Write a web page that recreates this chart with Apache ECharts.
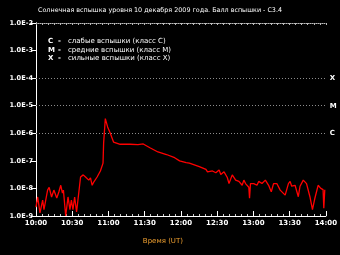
<!DOCTYPE html>
<html>
<head>
<meta charset="utf-8">
<script src="https://cdn.jsdelivr.net/npm/echarts@6/dist/echarts.min.js"></script>
<style>html,body{margin:0;padding:0;background:#000;}#c{width:340px;height:255px;}</style>
</head>
<body>
<div id="c"></div>
<script>
// minutes after 10:00 UT
const minutes = [0,1.4,3.3,5.5,6.6,9.6,10.9,12.9,14.8,17.2,18.9,20.5,21.9,22.7,24.6,26.5,28.1,29.3,30.6,32,33.6,36.9,39.1,41,43.7,45.1,46.5,47.8,50.6,53.3,55.5,56,57.4,59.3,61.5,64.2,69.7,77.9,84.4,88.8,94.3,101,108,114.8,118.9,124.3,127,135.2,140.7,142,146.1,148.9,151.6,153,155.7,158.4,159.8,162.5,165.3,168,170.7,172.1,173.5,176.2,176.8,177.6,180.3,183,184.4,187.1,189.9,192.6,194.8,196.7,199.4,202.2,203.5,206.3,209,210.4,211.7,214.5,217.2,218.6,221.3,224,226.8,228.9,230.9,233.6,235.8,237.7,238.3,239.1];
// X-ray flux, W/m^2
const flux = [2.1e-9,4.9e-9,1.3e-9,3.8e-9,1.7e-9,8.7e-9,1.1e-8,4.9e-9,8.7e-9,4.5e-9,7.4e-9,1.3e-8,6.8e-9,8.7e-9,1.0e-9,4.9e-9,1.7e-9,3.8e-9,1.7e-9,4.9e-9,1.4e-9,2.6e-8,3.1e-8,2.6e-8,2.0e-8,2.4e-8,1.3e-8,1.7e-8,2.6e-8,4.3e-8,8.3e-8,4.5e-7,3.4e-6,1.7e-6,1.0e-6,4.8e-7,4.0e-7,4.0e-7,3.9e-7,4.1e-7,3.0e-7,2.1e-7,1.7e-7,1.3e-7,1.0e-7,8.6e-8,8.3e-8,6.2e-8,4.9e-8,4.0e-8,4.3e-8,3.7e-8,4.7e-8,3.2e-8,4.0e-8,2.5e-8,1.5e-8,3.1e-8,2.0e-8,1.8e-8,1.3e-8,2.0e-8,1.5e-8,1.1e-8,4.4e-9,1.5e-8,1.5e-8,1.3e-8,1.8e-8,1.5e-8,2.0e-8,1.3e-8,7.6e-9,1.5e-8,1.5e-8,8.7e-9,1.0e-8,5.7e-9,1.5e-8,1.8e-8,1.2e-8,1.3e-8,5.0e-9,1.2e-8,2.0e-8,1.5e-8,5.0e-9,1.7e-9,4.4e-9,1.3e-8,1.0e-8,9.0e-9,1.9e-9,9.0e-9];
const timeLabels = ['10:00','10:30','11:00','11:30','12:00','12:30','13:00','13:30','14:00'];
const classLevels = [1e-6, 1e-5, 1e-4];
const classLetters = ['C', 'M', 'X'];
const legendLines = [
  ['C', 'слабые вспышки (класс C)'],
  ['M', 'средние вспышки (класс M)'],
  ['X', 'сильные вспышки (класс X)']
];
const titleText = 'Солнечная вспышка уровня 10 декабря 2009 года. Балл вспышки - C3.4';
const xName = 'Время (UT)';

const FONT = 'DejaVu Sans';
const chart = echarts.init(document.getElementById('c'), null, {renderer: 'canvas'});
const data = minutes.map((m, i) => [m, flux[i]]);
const expOf = v => Math.round(Math.log10(v));

const graphics = [];
legendLines.forEach((l, i) => {
  const y = 38 + i * 8.4;
  graphics.push({type: 'text', left: 48, top: y, style: {text: l[0], fill: '#fff', font: 'bold 7px ' + FONT}});
  graphics.push({type: 'text', left: 58, top: y, style: {text: '-', fill: '#fff', font: 'bold 7px ' + FONT}});
  graphics.push({type: 'text', left: 68, top: y, style: {text: l[1], fill: '#fff', font: '7px ' + FONT}});
});
graphics.push({type: 'text', left: 38, top: 7, style: {text: titleText, fill: '#fff', font: '6.4px ' + FONT}});

chart.setOption({
  backgroundColor: '#000',
  animation: false,
  grid: {left: 36, right: 12, top: 23, bottom: 39},
  graphic: graphics,
  xAxis: [{
    type: 'value', min: 0, max: 240, interval: 30,
    name: xName, nameLocation: 'middle', nameGap: 22,
    nameTextStyle: {color: '#f0a030', fontFamily: FONT, fontSize: 7, padding: [0, 36, 0, 0]},
    axisLine: {lineStyle: {color: '#fff', width: 1}},
    axisTick: {inside: true, length: 5, lineStyle: {color: '#fff'}},
    minorTick: {show: true, splitNumber: 6, length: 2, lineStyle: {color: '#ccc'}},
    axisLabel: {color: '#fff', fontFamily: FONT, fontSize: 7, fontWeight: 'bold', margin: 4,
      formatter: v => timeLabels[Math.round(v / 30)] || ''},
    splitLine: {show: false}
  }, {
    type: 'value', min: 0, max: 240, interval: 5, position: 'top',
    axisLine: {lineStyle: {color: '#bbb', type: 'dotted', width: 1}},
    axisTick: {inside: true, length: 2, lineStyle: {color: '#bbb'}},
    axisLabel: {show: false},
    splitLine: {show: false}
  }],
  yAxis: [{
    type: 'log', logBase: 10, min: 1e-9, max: 1e-2, splitNumber: 7,
    axisLine: {show: true, lineStyle: {color: '#fff', width: 1}},
    axisTick: {show: true, length: 3, lineStyle: {color: '#fff'}},
    axisLabel: {color: '#fff', fontFamily: FONT, fontSize: 6.6, fontWeight: 'bold', margin: 3,
      formatter: v => '1.0E-' + (-expOf(v))},
    splitLine: {show: false}
  }, {
    type: 'log', logBase: 10, min: 1e-9, max: 1e-2, splitNumber: 7, position: 'right',
    axisLine: {show: true, lineStyle: {color: '#fff', width: 1}},
    axisTick: {show: true, inside: true, length: 5, lineStyle: {color: '#fff'}},
    axisLabel: {color: '#fff', fontFamily: FONT, fontSize: 7, fontWeight: 'bold', margin: 4,
      formatter: v => {
        const k = classLevels.findIndex(c => expOf(c) === expOf(v));
        return k >= 0 ? classLetters[k] : '';
      }},
    splitLine: {show: false}
  }],
  series: [{
    type: 'line', data: data, xAxisIndex: 0, yAxisIndex: 0,
    symbol: 'none', smooth: false, z: 3,
    lineStyle: {color: '#ff0000', width: 1.3},
    markLine: {
      silent: true, symbol: ['none', 'none'], label: {show: false}, z: 1,
      lineStyle: {color: '#8c8c8c', type: [1, 2], width: 1, opacity: 1},
      emphasis: {disabled: true},
      data: classLevels.map(v => [{xAxis: 0, yAxis: v}, {xAxis: 240, yAxis: v}])
    }
  }]
});
</script>
</body>
</html>
